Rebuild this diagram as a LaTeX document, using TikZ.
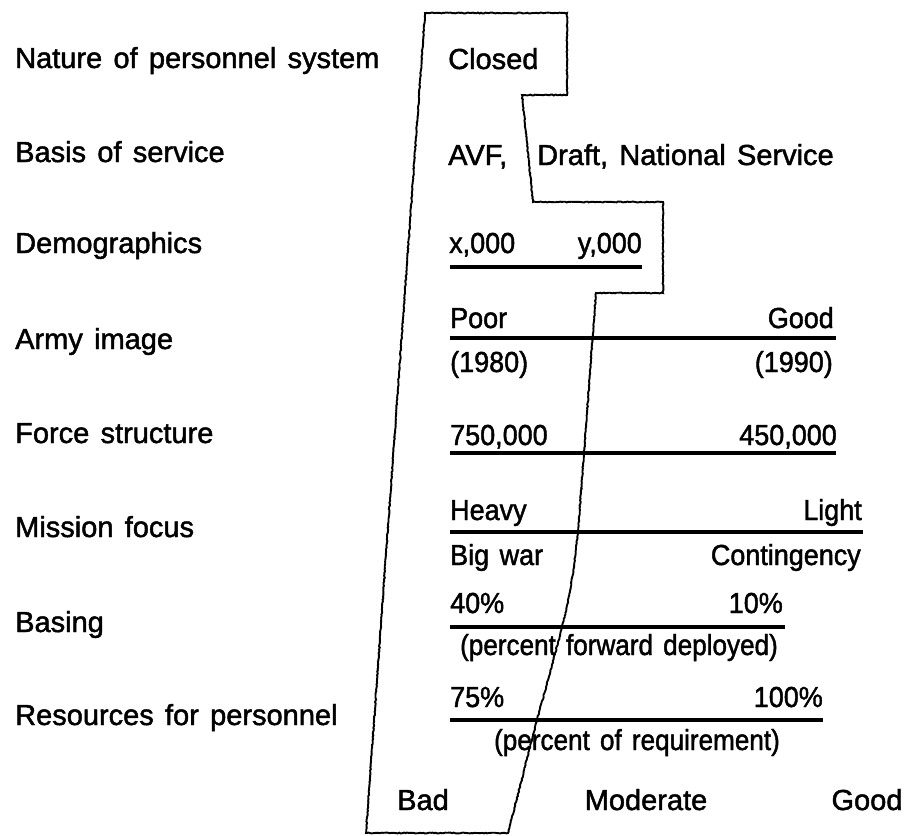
\documentclass[tikz,border=0pt]{standalone}
\usepackage{fontspec}
\setmainfont{Liberation Sans}[FakeBold=1.6, WordSpace=1.4]
\usetikzlibrary{decorations.pathmorphing}
% scale values are set a little narrower than the factor labels
\newcommand\condense[1]{\scalebox{0.93}[1]{#1}}
\begin{document}
\begin{tikzpicture}[x=1pt,y=-1pt,
  txt/.style={inner sep=0pt, font=\fontsize{29}{35}\selectfont},
  lft/.style={txt, anchor=base west},
  rgt/.style={txt, anchor=base east},
  mid/.style={txt, anchor=base},
  scalebar/.style={line width=4.6pt},
  band/.style={line width=1.9pt, line join=miter,
    decorate, decoration={random steps, segment length=1.6pt, amplitude=0.45pt}}]
\useasboundingbox (0,0) rectangle (914,836);
\pgfmathsetseed{7}

% factor labels
\node[lft] (f1) at (15,68)  {Nature of personnel system};
\node[lft] (f2) at (15,162) {Basis of service};
\node[lft] (f3) at (15,253) {Demographics};
\node[lft] (f4) at (15,349) {Army image};
\node[lft] (f5) at (15,443) {Force structure};
\node[lft] (f6) at (15,537) {Mission focus};
\node[lft] (f7) at (15,632) {Basing};
\node[lft] (f8) at (15,725) {Resources for personnel};

% scale contents
\node[lft] (closed) at (448,69)  {Closed};
\node[lft] (avf)    at (448,165) {AVF,};
\node[lft] (draft)  at (537,165) {Draft, National Service};

\node[lft] (dxa) at (449,253) {\condense{x,000}};
\node[rgt] (dxb) at (642,253) {\condense{y,000}};
\coordinate (d1) at (450,267); \coordinate (d2) at (642,267);

\node[lft] (ia)  at (450,328) {\condense{Poor}};
\node[rgt] (ib)  at (834,328) {\condense{Good}};
\coordinate (i1) at (450,338); \coordinate (i2) at (836,338);
\node[lft] (iya) at (450,372) {\condense{(1980)}};
\node[rgt] (iyb) at (833,372) {\condense{(1990)}};

\node[lft] (sa) at (450,445) {\condense{750,000}};
\node[rgt] (sb) at (837,445) {\condense{450,000}};
\coordinate (s1) at (450,453); \coordinate (s2) at (836,453);

\node[lft] (ma)  at (450,520) {\condense{Heavy}};
\node[rgt] (mb)  at (862,520) {\condense{Light}};
\coordinate (m1) at (450,532); \coordinate (m2) at (863,532);
\node[lft] (mwa) at (450,565) {\condense{Big war}};
\node[rgt] (mwb) at (861,565) {\condense{Contingency}};

\node[lft] (ba) at (450,613) {\condense{40\%}};
\node[rgt] (bb) at (783,613) {\condense{10\%}};
\coordinate (b1) at (450,627); \coordinate (b2) at (785,627);
\node[mid] (bn) at (619,655) {\scalebox{0.9}[1]{(percent forward deployed)}};

\node[lft] (ra) at (450,707) {\condense{75\%}};
\node[rgt] (rb) at (823,707) {\condense{100\%}};
\coordinate (r1) at (450,720); \coordinate (r2) at (823,720);
\node[mid] (rn) at (637,750) {\scalebox{0.9}[1]{(percent of requirement)}};

% rating axis
\node[mid] (bad)  at (423,810) {Bad};
\node[mid] (mod)  at (646,810) {Moderate};
\node[mid] (good) at (867,810) {Good};

% scale bars
\foreach \a/\b in {d1/d2, i1/i2, s1/s2, m1/m2, b1/b2, r1/r2}
  \draw[scalebar] (\a) -- (\b);

% profile outline
\draw[band] (425,13) -- (567,13) -- (567,95) -- (522,95) -- (533,202)
  -- (663,202) -- (663,293) -- (596,293) -- (578,532)
  .. controls (570,600) .. (537,720) -- (508,833) -- (366,833) -- cycle;
\end{tikzpicture}
\end{document}
